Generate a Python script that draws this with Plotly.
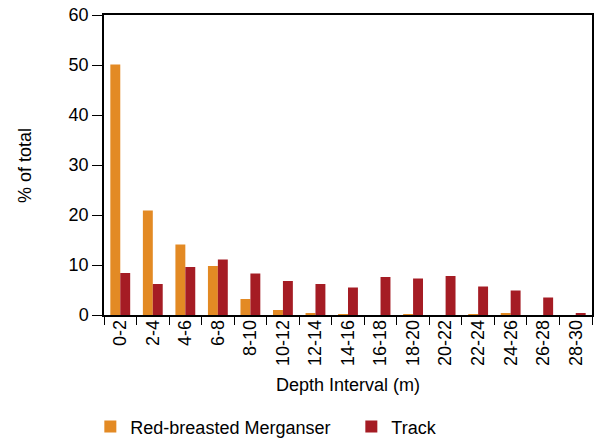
import plotly.graph_objs as go

# DATA
depth_intervals = ['0-2', '2-4', '4-6', '6-8', '8-10', '10-12', '12-14', '14-16',
                   '16-18', '18-20', '20-22', '22-24', '24-26', '26-28', '28-30']
merganser = [50.1, 20.9, 14.1, 9.8, 3.2, 1.0, 0.3, 0.1, 0.0, 0.1, 0.0, 0.1, 0.3, 0.0, 0.0]
track = [8.4, 6.2, 9.6, 11.1, 8.3, 6.8, 6.2, 5.5, 7.6, 7.3, 7.8, 5.7, 4.9, 3.5, 0.3]

FONT = "Liberation Sans, Arial, Helvetica, sans-serif"

fig = go.Figure()
fig.add_trace(go.Bar(x=depth_intervals, y=merganser, name='Red-breasted Merganser',
                     marker=dict(color='#E38A24', line=dict(width=0))))
fig.add_trace(go.Bar(x=depth_intervals, y=track, name='Track',
                     marker=dict(color='#A51C24', line=dict(width=0))))

fig.update_layout(
    width=595, height=439,
    margin=dict(l=104, r=3, t=15, b=124, autoexpand=False),
    paper_bgcolor='white', plot_bgcolor='white',
    font=dict(family=FONT, size=18, color='black'),
    barmode='group', bargap=0.39, bargroupgap=0,
    showlegend=True,
    legend=dict(orientation='h', x=-0.028, xanchor='left', y=-0.373, yanchor='middle',
                font=dict(size=18), entrywidth=216, itemwidth=30),
    annotations=[
        dict(text='Depth Interval (m)', x=0.5, y=-0.233, xref='paper', yref='paper',
             showarrow=False, font=dict(size=18), xanchor='center', yanchor='middle'),
        dict(text='% of total', x=-0.162, y=0.5, xref='paper', yref='paper',
             showarrow=False, font=dict(size=18), textangle=-90,
             xanchor='center', yanchor='middle'),
    ],
)

fig.update_xaxes(
    type='category', tickangle=-90, tickson='boundaries', automargin=False,
    ticks='outside', ticklen=8, tickwidth=1, tickcolor='black', ticklabelstandoff=-4,
    showline=True, linecolor='black', linewidth=1.5, mirror=True,
    showgrid=False, tickfont=dict(size=18),
)
fig.update_yaxes(
    range=[0, 60], tickvals=[0, 10, 20, 30, 40, 50, 60], automargin=False,
    ticks='outside', ticklen=10, tickwidth=1, tickcolor='black',
    showline=True, linecolor='black', linewidth=1.5, mirror=True,
    showgrid=False, zeroline=False, tickfont=dict(size=18),
)

# drop the default 8px page margin so the figure fills the window
fig.write_html("out.html", config={"displayModeBar": False},
               post_script="document.body.style.margin = '0';")
